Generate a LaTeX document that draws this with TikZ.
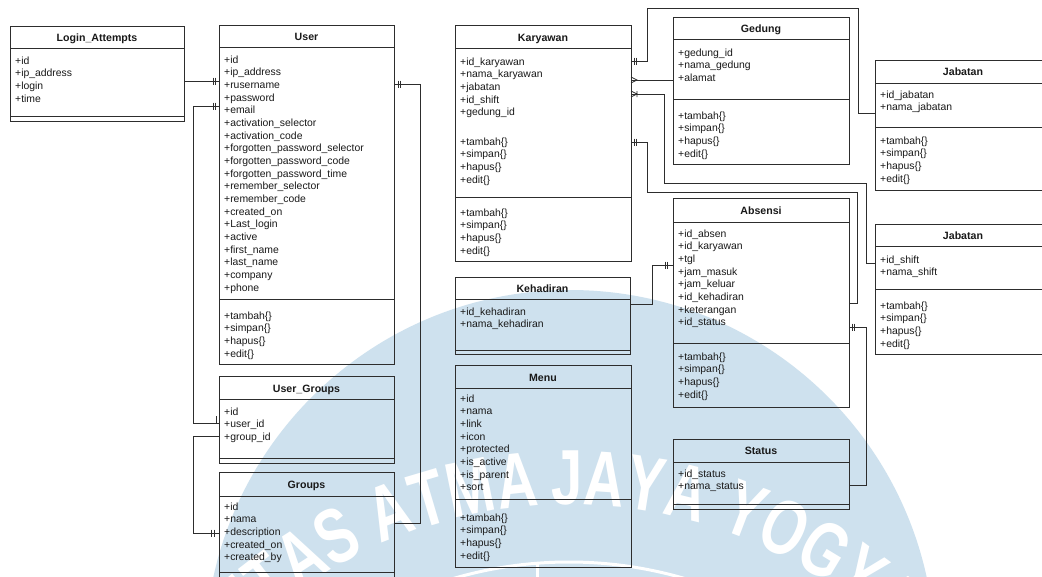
\documentclass[tikz,border=0pt]{standalone}
\usepackage{fontspec}
\setmainfont{Liberation Sans}
\definecolor{wmblue}{RGB}{206,225,238}
\definecolor{linec}{RGB}{45,45,45}
\definecolor{txt}{RGB}{25,25,25}
\tikzset{
  ent/.style={draw=linec, line width=0.9pt, rectangle, inner sep=0pt, outer sep=0pt, anchor=north west},
  sep/.style={draw=linec, line width=0.9pt},
  ttl/.style={anchor=base, inner sep=0pt, text=txt, font=\fontsize{10.6}{12}\selectfont\bfseries},
  row/.style={anchor=base west, inner sep=0pt, text=txt, font=\fontsize{10.4}{12}\selectfont},
  conn/.style={draw=linec, line width=0.8pt},
  wmletter/.style={text=white, inner sep=0pt, font=\fontsize{78}{78}\selectfont\bfseries},
}
% attribute rows: prefix, x, first baseline, list
\newcommand\erfields[4]{\foreach \lbl [count=\ii] in {#4}{\node[row] (#1-\ii) at (#2,{#3+(\ii-1)*12.67}) {\lbl};}}
\newcommand\ermethods[3]{\erfields{#1}{#2}{#3}{+tambah\{\},+simpan\{\},+hapus\{\},+edit\{\}}}
% "one" marker: two short bars across a connector
\newcommand\erbars[2]{\draw[conn] ({#1},{#2-3.5}) -- ({#1},{#2+3.5}) ({#1+2.5},{#2-3.5}) -- ({#1+2.5},{#2+3.5});}
\begin{document}
\begin{tikzpicture}[x=1pt,y=-1pt]
\useasboundingbox (0,0) rectangle (1042,576);
\clip (0,0) rectangle (1042,576);
\fill[white] (0,0) rectangle (1042,576);

% university seal in the background
\fill[wmblue] (570,655) circle (365);
\foreach \wl/\wb [count=\ii] in {J/-0.35, A/3.70, Y/8.33, A/12.96, Y/19.55, O/24.29, G/29.27, Y/34.01, A/38.64, K/43.27, A/47.90, R/52.52, T/56.81, A/61.2,
  A/-5.90, M/-10.99, T/-15.74, A/-20.14, S/-26.61, A/-31.13, T/-35.52, I/-38.42, S/-41.42, R/-45.82, E/-50.10, V/-54.38, I/-57.5, N/-60.7, U/-65.5}
  {\pgfmathsetmacro\wa{-2.6+1.06*(\wb+2.6)}
   \node[wmletter, rotate={0-(\wa)}, xscale=0.72] (wm-\ii) at ({569+495*sin(\wa)},{973-495*cos(\wa)}) {\wl};}
\draw[white, line width=3pt] (569,973) circle (411);
\draw[white, line width=3pt] (537,563) -- (537,590);

% Login_Attempts
\node[ent, minimum width=174pt, minimum height=95pt] (login) at (10,26) {};
\node[ttl] (login-t) at (97,41) {Login\_Attempts};
\draw[sep] (login.west |- 0,48) -- (login.east |- 0,48);
\erfields{login}{15}{64}{+id,+ip\_address,+login,+time}
\draw[sep] (login.west |- 0,116) -- (login.east |- 0,116);

% User
\node[ent, minimum width=175pt, minimum height=339pt] (user) at (219,25) {};
\node[ttl] (user-t) at (306.5,40) {User};
\draw[sep] (user.west |- 0,47) -- (user.east |- 0,47);
\erfields{user}{224}{63}{+id,+ip\_address,+rusername,+password,+email,+activation\_selector,+activation\_code,+forgotten\_password\_selector,+forgotten\_password\_code,+forgotten\_password\_time,+remember\_selector,+remember\_code,+created\_on,+Last\_login,+active,+first\_name,+last\_name,+company,+phone}
\draw[sep] (user.west |- 0,299) -- (user.east |- 0,299);
\ermethods{user-m}{224}{319}

% User_Groups
\node[ent, minimum width=175pt, minimum height=87pt] (ug) at (219,376) {};
\node[ttl] (ug-t) at (306.5,392) {User\_Groups};
\draw[sep] (ug.west |- 0,399) -- (ug.east |- 0,399);
\erfields{ug}{224}{415}{+id,+user\_id,+group\_id}
\draw[sep] (ug.west |- 0,458) -- (ug.east |- 0,458);

% Groups
\node[ent, minimum width=175pt, minimum height=150pt] (groups) at (219,472) {};
\node[ttl] (groups-t) at (306.5,488) {Groups};
\draw[sep] (groups.west |- 0,496) -- (groups.east |- 0,496);
\erfields{groups}{224}{510}{+id,+nama,+description,+created\_on,+created\_by}
\draw[sep] (groups.west |- 0,572) -- (groups.east |- 0,572);

% Karyawan
\node[ent, minimum width=176pt, minimum height=236pt] (kary) at (455,25) {};
\node[ttl] (kary-t) at (543,41) {Karyawan};
\draw[sep] (kary.west |- 0,48) -- (kary.east |- 0,48);
\erfields{kary}{460}{65}{+id\_karyawan,+nama\_karyawan,+jabatan,+id\_shift,+gedung\_id}
\ermethods{kary-m}{460}{145}
\draw[sep] (kary.west |- 0,197) -- (kary.east |- 0,197);
\ermethods{kary-n}{460}{216}

% Gedung
\node[ent, minimum width=176pt, minimum height=147pt] (ged) at (673,17) {};
\node[ttl] (ged-t) at (761,32) {Gedung};
\draw[sep] (ged.west |- 0,39) -- (ged.east |- 0,39);
\erfields{ged}{678}{56}{+gedung\_id,+nama\_gedung,+alamat}
\draw[sep] (ged.west |- 0,99) -- (ged.east |- 0,99);
\ermethods{ged-m}{678}{119}

% Jabatan
\node[ent, minimum width=176pt, minimum height=130pt] (jab) at (875,60) {};
\node[ttl] (jab-t) at (963,75.5) {Jabatan};
\draw[sep] (jab.west |- 0,83) -- (jab.east |- 0,83);
\erfields{jab}{880}{98}{+id\_jabatan,+nama\_jabatan}
\draw[sep] (jab.west |- 0,127) -- (jab.east |- 0,127);
\ermethods{jab-m}{880}{144}

% Absensi
\node[ent, minimum width=176pt, minimum height=209pt] (abs) at (673,198) {};
\node[ttl] (abs-t) at (761,214) {Absensi};
\draw[sep] (abs.west |- 0,222) -- (abs.east |- 0,222);
\erfields{abs}{678}{237}{+id\_absen,+id\_karyawan,+tgl,+jam\_masuk,+jam\_keluar,+id\_kehadiran,+keterangan,+id\_status}
\draw[sep] (abs.west |- 0,343) -- (abs.east |- 0,343);
\ermethods{abs-m}{678}{360}

% Jabatan (shift)
\node[ent, minimum width=176pt, minimum height=130pt] (shift) at (875,224) {};
\node[ttl] (shift-t) at (963,239) {Jabatan};
\draw[sep] (shift.west |- 0,246) -- (shift.east |- 0,246);
\erfields{shift}{880}{263}{+id\_shift,+nama\_shift}
\draw[sep] (shift.west |- 0,289) -- (shift.east |- 0,289);
\ermethods{shift-m}{880}{309}

% Kehadiran
\node[ent, minimum width=175pt, minimum height=77pt] (keh) at (455,277) {};
\node[ttl] (keh-t) at (542.5,292) {Kehadiran};
\draw[sep] (keh.west |- 0,299) -- (keh.east |- 0,299);
\erfields{keh}{460}{315}{+id\_kehadiran,+nama\_kehadiran}
\draw[sep] (keh.west |- 0,350) -- (keh.east |- 0,350);

% Menu
\node[ent, minimum width=176pt, minimum height=202pt] (menu) at (455,365) {};
\node[ttl] (menu-t) at (543,381) {Menu};
\draw[sep] (menu.west |- 0,388) -- (menu.east |- 0,388);
\erfields{menu}{460}{402}{+id,+nama,+link,+icon,+protected,+is\_active,+is\_parent,+sort}
\draw[sep] (menu.west |- 0,499) -- (menu.east |- 0,499);
\ermethods{menu-m}{460}{521}

% Status
\node[ent, minimum width=176pt, minimum height=70pt] (status) at (673,439) {};
\node[ttl] (status-t) at (761,454.5) {Status};
\draw[sep] (status.west |- 0,462) -- (status.east |- 0,462);
\erfields{status}{678}{477}{+id\_status,+nama\_status}
\draw[sep] (status.west |- 0,504) -- (status.east |- 0,504);

% relationships
\draw[conn] (login.east |- 0,81) -- (user.west |- 0,81);
\erbars{213}{81}
\draw[conn] (user.west |- 0,106) -- (193,106) -- (193,423) -- (ug.west |- 0,423);
\erbars{213}{106}
\draw[conn] (216,416) -- (216,423);
\draw[conn] (ug.west |- 0,436) -- (193,436) -- (193,533) -- (groups.west |- 0,533);
\erbars{211.5}{533}
\draw[conn] (user.east |- 0,84) -- (420,84) -- (420,523) -- (groups.east |- 0,523);
\erbars{398}{84}

\draw[conn] (kary.east |- 0,61) -- (647,61) -- (647,8) -- (858,8) -- (858,113) -- (jab.west |- 0,113);
\erbars{634}{61}
\draw[conn] (ged.west |- 0,80) -- (kary.east |- 0,80);
\draw[conn] (631,77) -- (637,80) -- (631,83);
\draw[conn] (kary.east |- 0,94) -- (664,94) -- (664,183) -- (866,183) -- (866,263) -- (shift.west |- 0,263);
\draw[conn] (631,91) -- (637,94) -- (631,97) (637,91) -- (637,97);
\draw[conn] (kary.east |- 0,142) -- (647,142) -- (647,192) -- (857,192) -- (857,303) -- (abs.east |- 0,303);
\erbars{634}{142}
\draw[conn] (keh.east |- 0,304) -- (652,304) -- (652,265) -- (abs.west |- 0,265);
\erbars{665}{265}
\draw[conn] (abs.east |- 0,327) -- (866,327) -- (866,485) -- (status.east |- 0,485);
\erbars{852}{327}
\end{tikzpicture}
\end{document}
